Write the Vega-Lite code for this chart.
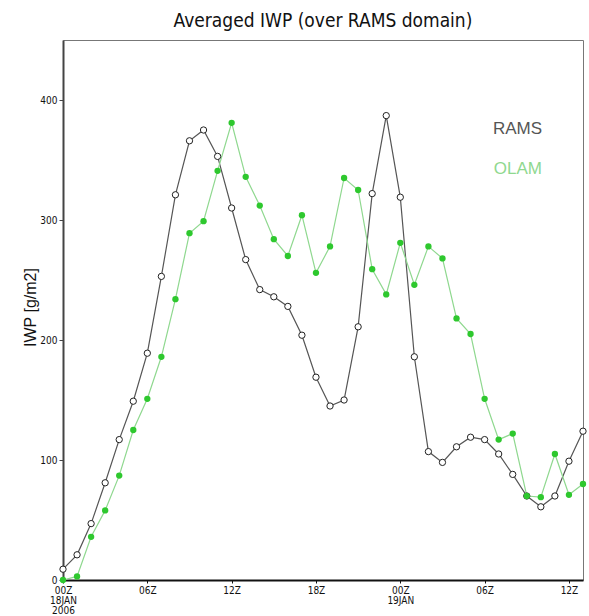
{
  "$schema": "https://vega.github.io/schema/vega-lite/v6.json",
  "width": 520,
  "height": 540,
  "autosize": {"type": "none"},
  "padding": {"left": 63, "top": 40, "right": 6, "bottom": 36},
  "background": "white",
  "title": {"text": "Averaged IWP (over RAMS domain)", "font": "DejaVu Sans Condensed", "fontSize": 19, "fontWeight": "normal", "color": "#111", "offset": 9, "anchor": "middle"},
  "config": {"view": {"stroke": "#777", "strokeWidth": 1}},
  "datasets": {
    "iwp": [
      {"hour": 0, "series": "RAMS", "iwp": 9}, {"hour": 1, "series": "RAMS", "iwp": 21}, {"hour": 2, "series": "RAMS", "iwp": 47}, {"hour": 3, "series": "RAMS", "iwp": 81},
      {"hour": 4, "series": "RAMS", "iwp": 117}, {"hour": 5, "series": "RAMS", "iwp": 149}, {"hour": 6, "series": "RAMS", "iwp": 189}, {"hour": 7, "series": "RAMS", "iwp": 253},
      {"hour": 8, "series": "RAMS", "iwp": 321}, {"hour": 9, "series": "RAMS", "iwp": 366}, {"hour": 10, "series": "RAMS", "iwp": 375}, {"hour": 11, "series": "RAMS", "iwp": 353},
      {"hour": 12, "series": "RAMS", "iwp": 310}, {"hour": 13, "series": "RAMS", "iwp": 267}, {"hour": 14, "series": "RAMS", "iwp": 242}, {"hour": 15, "series": "RAMS", "iwp": 236},
      {"hour": 16, "series": "RAMS", "iwp": 228}, {"hour": 17, "series": "RAMS", "iwp": 204}, {"hour": 18, "series": "RAMS", "iwp": 169}, {"hour": 19, "series": "RAMS", "iwp": 145},
      {"hour": 20, "series": "RAMS", "iwp": 150}, {"hour": 21, "series": "RAMS", "iwp": 211}, {"hour": 22, "series": "RAMS", "iwp": 322}, {"hour": 23, "series": "RAMS", "iwp": 387},
      {"hour": 24, "series": "RAMS", "iwp": 319}, {"hour": 25, "series": "RAMS", "iwp": 186}, {"hour": 26, "series": "RAMS", "iwp": 107}, {"hour": 27, "series": "RAMS", "iwp": 98},
      {"hour": 28, "series": "RAMS", "iwp": 111}, {"hour": 29, "series": "RAMS", "iwp": 119}, {"hour": 30, "series": "RAMS", "iwp": 117}, {"hour": 31, "series": "RAMS", "iwp": 105},
      {"hour": 32, "series": "RAMS", "iwp": 88}, {"hour": 33, "series": "RAMS", "iwp": 70}, {"hour": 34, "series": "RAMS", "iwp": 61}, {"hour": 35, "series": "RAMS", "iwp": 70},
      {"hour": 36, "series": "RAMS", "iwp": 99}, {"hour": 37, "series": "RAMS", "iwp": 124},
      {"hour": 0, "series": "OLAM", "iwp": 0}, {"hour": 1, "series": "OLAM", "iwp": 3}, {"hour": 2, "series": "OLAM", "iwp": 36}, {"hour": 3, "series": "OLAM", "iwp": 58},
      {"hour": 4, "series": "OLAM", "iwp": 87}, {"hour": 5, "series": "OLAM", "iwp": 125}, {"hour": 6, "series": "OLAM", "iwp": 151}, {"hour": 7, "series": "OLAM", "iwp": 186},
      {"hour": 8, "series": "OLAM", "iwp": 234}, {"hour": 9, "series": "OLAM", "iwp": 289}, {"hour": 10, "series": "OLAM", "iwp": 299}, {"hour": 11, "series": "OLAM", "iwp": 341},
      {"hour": 12, "series": "OLAM", "iwp": 381}, {"hour": 13, "series": "OLAM", "iwp": 336}, {"hour": 14, "series": "OLAM", "iwp": 312}, {"hour": 15, "series": "OLAM", "iwp": 284},
      {"hour": 16, "series": "OLAM", "iwp": 270}, {"hour": 17, "series": "OLAM", "iwp": 304}, {"hour": 18, "series": "OLAM", "iwp": 256}, {"hour": 19, "series": "OLAM", "iwp": 278},
      {"hour": 20, "series": "OLAM", "iwp": 335}, {"hour": 21, "series": "OLAM", "iwp": 325}, {"hour": 22, "series": "OLAM", "iwp": 259}, {"hour": 23, "series": "OLAM", "iwp": 238},
      {"hour": 24, "series": "OLAM", "iwp": 281}, {"hour": 25, "series": "OLAM", "iwp": 246}, {"hour": 26, "series": "OLAM", "iwp": 278}, {"hour": 27, "series": "OLAM", "iwp": 268},
      {"hour": 28, "series": "OLAM", "iwp": 218}, {"hour": 29, "series": "OLAM", "iwp": 205}, {"hour": 30, "series": "OLAM", "iwp": 151}, {"hour": 31, "series": "OLAM", "iwp": 117},
      {"hour": 32, "series": "OLAM", "iwp": 122}, {"hour": 33, "series": "OLAM", "iwp": 70}, {"hour": 34, "series": "OLAM", "iwp": 69}, {"hour": 35, "series": "OLAM", "iwp": 105},
      {"hour": 36, "series": "OLAM", "iwp": 71}, {"hour": 37, "series": "OLAM", "iwp": 80}
    ]
  },
  "data": {"name": "iwp"},
  "encoding": {
    "x": {"field": "hour", "type": "quantitative", "scale": {"domain": [0, 37], "nice": false, "zero": false},
      "axis": {"values": [0, 6, 12, 18, 24, 30, 36], "title": null, "grid": false, "domainColor": "#111", "domainWidth": 2, "tickColor": "#111", "tickSize": 3,
        "labelFont": "DejaVu Sans Condensed", "labelFontSize": 10, "labelColor": "#111", "labelLineHeight": 10, "labelPadding": 2, "labelFlush": false,
        "labelExpr": "datum.value == 0 ? ['00Z', '18JAN', '2006'] : datum.value == 24 ? ['00Z', '19JAN'] : datum.value == 6 || datum.value == 30 ? '06Z' : datum.value == 12 || datum.value == 36 ? '12Z' : '18Z'"}},
    "y": {"field": "iwp", "type": "quantitative", "scale": {"domain": [0, 450], "nice": false},
      "axis": {"values": [0, 100, 200, 300, 400], "title": "IWP [g/m2]", "grid": false, "domainColor": "#444", "domainWidth": 2, "tickColor": "#444", "tickSize": 4,
        "labelFont": "DejaVu Sans Condensed", "labelFontSize": 10, "labelColor": "#111", "labelPadding": 2,
        "titleFont": "Liberation Sans", "titleFontSize": 16, "titleFontWeight": "normal", "titleColor": "#111", "titleX": -33, "titleY": 267, "titleAngle": -90, "titleBaseline": "middle", "titleAlign": "center"}}
  },
  "layer": [
    {
      "mark": {"type": "line", "strokeWidth": 1.2},
      "encoding": {
        "color": {"field": "series", "type": "nominal", "scale": {"domain": ["RAMS", "OLAM"], "range": ["#555555", "#8fd88f"]},
          "legend": {"title": null, "orient": "none", "legendX": 462, "legendY": 80, "symbolSize": 0, "symbolStrokeWidth": 0, "symbolOpacity": 0, "labelOffset": 0,
            "labelFont": "Liberation Sans", "labelFontSize": 17, "rowPadding": 22, "labelAlign": "right",
            "encode": {"labels": {"update": {"fill": {"scale": "color", "field": "value"}}}}}}
      }
    },
    {
      "transform": [{"filter": "datum.series == 'RAMS'"}],
      "mark": {"type": "point", "filled": false, "fill": "white", "stroke": "#222", "strokeWidth": 1, "size": 40, "opacity": 1}
    },
    {
      "transform": [{"filter": "datum.series == 'OLAM'"}],
      "mark": {"type": "point", "filled": true, "color": "#2ec82e", "size": 40, "opacity": 1}
    }
  ]
}
